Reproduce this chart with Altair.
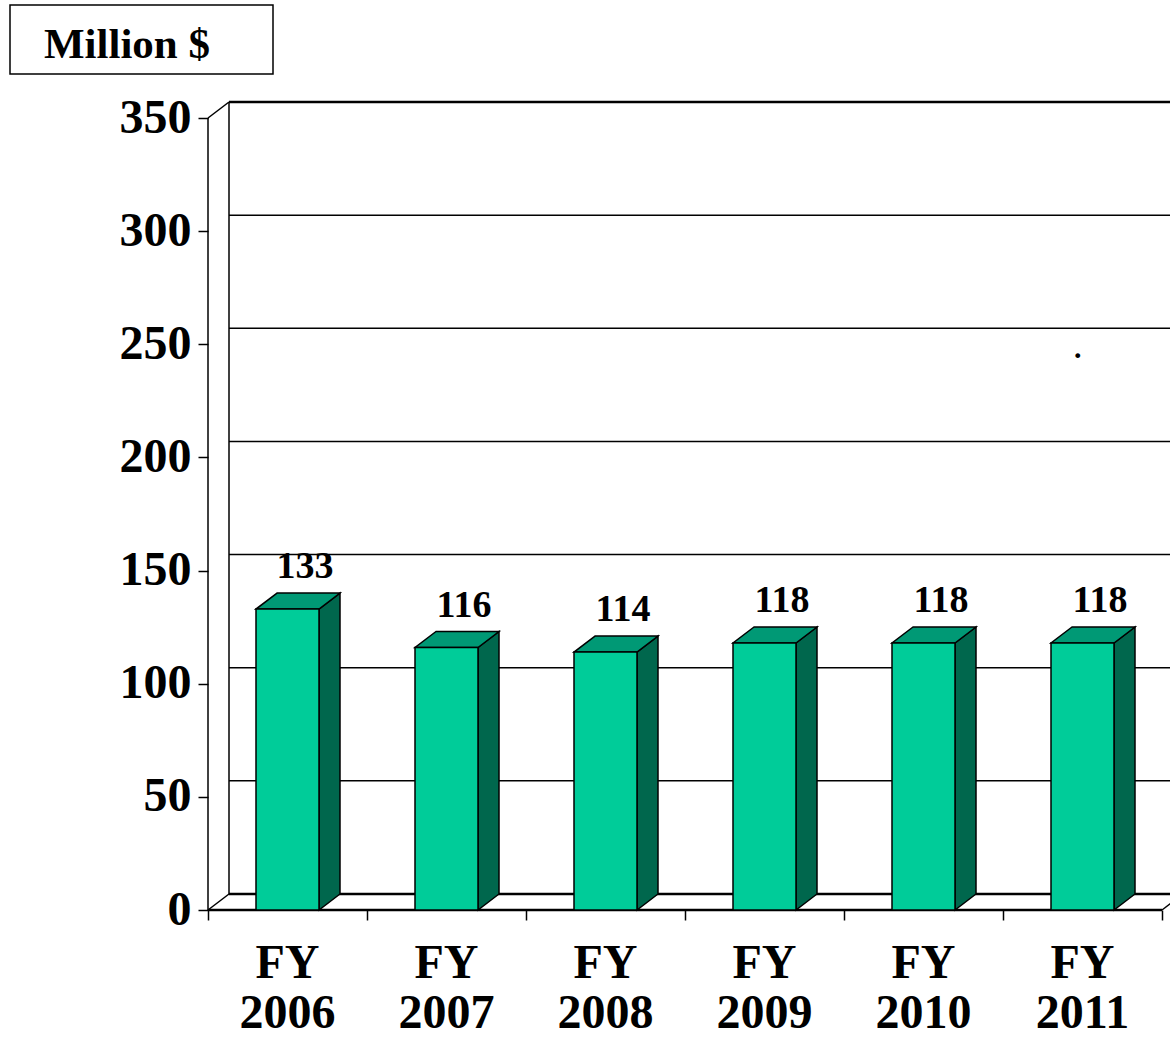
import altair as alt
import pandas as pd

# ---- data ----
years = ["2006", "2007", "2008", "2009", "2010", "2011"]
x_labels = ["FY\n2006", "FY\n2007", "FY\n2008", "FY\n2009", "FY\n2010", "FY\n2011"]
values = [133, 116, 114, 118, 118, 118]
y_ticks = [0, 50, 100, 150, 200, 250, 300, 350]
unit_title = ["Million $"]
stray_text = ["."]
stray_x = [5.47]
stray_y = [244]

# ---- style / geometry constants ----
FONT = "Liberation Serif"
N = len(years)
BAND_PX = 159.0
PLOT_H_PX = 792.0
YMAX = 350.0
DX_PX, DY_PX = 21.0, 16.0
DXU = DX_PX / BAND_PX
DYU = DY_PX * YMAX / PLOT_H_PX
BW = 63.0 / BAND_PX
FRONT = "#00CC99"
TOP = "#009975"
SIDE = "#00674D"

xs = alt.Scale(domain=[0, N + DXU], range=[0, N * BAND_PX + DX_PX], nice=False, zero=False)
ys = alt.Scale(domain=[0, YMAX + DYU], nice=False, zero=False)

# ---- tables built from arrays ----
bars = pd.DataFrame({
    "year": years,
    "label": x_labels,
    "v": values,
    "c": [i + 0.5 for i in range(N)],
})
bars["xl"] = bars["c"] - BW / 2
bars["xr"] = bars["c"] + BW / 2
bars["ytop"] = bars["v"] + DYU
bars["lx"] = bars["c"] + DXU / 2

side_rows, top_rows = [], []
for _, r in bars.iterrows():
    side_rows.append({"year": r.year, "x": r.xr, "y": r.v, "y2": 0.0})
    side_rows.append({"year": r.year, "x": r.xr + DXU, "y": r.v + DYU, "y2": DYU})
    top_rows.append({"year": r.year, "y": r.v, "x": r.xl, "x2": r.xr})
    top_rows.append({"year": r.year, "y": r.v + DYU, "x": r.xl + DXU, "x2": r.xr + DXU})
side = pd.DataFrame(side_rows)
top = pd.DataFrame(top_rows)

XEND = N + DXU
thin_lines = [
    {"x": 0, "y": 0, "x2": 0, "y2": YMAX},
    {"x": DXU, "y": DYU, "x2": DXU, "y2": YMAX + DYU},
    {"x": 0, "y": YMAX, "x2": DXU, "y2": YMAX + DYU},
    {"x": 0, "y": 0, "x2": DXU, "y2": DYU},
    {"x": N, "y": 0, "x2": N + DXU, "y2": DYU},
]
for t in y_ticks[1:-1]:
    thin_lines.append({"x": DXU, "y": t + DYU, "x2": XEND, "y2": t + DYU})
thin = pd.DataFrame(thin_lines)
thick = pd.DataFrame([
    {"x": DXU, "y": YMAX + DYU, "x2": XEND, "y2": YMAX + DYU},
    {"x": DXU, "y": DYU, "x2": XEND, "y2": DYU},
    {"x": 0, "y": 0, "x2": N, "y2": 0},
])

# ---- layers ----
axes = alt.Chart(pd.DataFrame({"tx": [0.0, float(N)], "ty": [0.0, YMAX]})).mark_point(opacity=0).encode(
    x=alt.X("tx:Q", scale=xs, axis=alt.Axis(
        values=list(range(N + 1)), labels=False, domain=False, grid=False, title=None,
        ticks=True, tickSize=10, tickColor="black", tickWidth=1.5)),
    y=alt.Y("ty:Q", scale=ys, axis=alt.Axis(
        values=y_ticks, domain=False, grid=False, title=None, ticks=True, tickSize=10,
        tickColor="black", tickWidth=1.5, labelFont=FONT, labelFontSize=48,
        labelFontWeight="bold", labelColor="black", labelPadding=7)),
)

thin_layer = alt.Chart(thin).mark_rule(color="black", strokeWidth=1.5).encode(
    x=alt.X("x:Q", scale=xs), x2="x2:Q", y=alt.Y("y:Q", scale=ys), y2="y2:Q")
thick_layer = alt.Chart(thick).mark_rule(color="black", strokeWidth=2.5).encode(
    x=alt.X("x:Q", scale=xs), x2="x2:Q", y=alt.Y("y:Q", scale=ys), y2="y2:Q")

side_layer = alt.Chart(side).mark_area(
    orient="vertical", color=SIDE, stroke="black", strokeWidth=1.5, opacity=1, interpolate="linear"
).encode(x=alt.X("x:Q", scale=xs), y=alt.Y("y:Q", scale=ys), y2="y2:Q", detail="year:N")

top_layer = alt.Chart(top).mark_area(
    orient="horizontal", color=TOP, stroke="black", strokeWidth=1.5, opacity=1, interpolate="linear"
).encode(y=alt.Y("y:Q", scale=ys), x=alt.X("x:Q", scale=xs), x2="x2:Q", detail="year:N")

front_layer = alt.Chart(bars).mark_rect(color=FRONT, stroke="black", strokeWidth=1.5).encode(
    x=alt.X("xl:Q", scale=xs), x2="xr:Q", y=alt.Y("v:Q", scale=ys), y2=alt.datum(0))

value_labels = alt.Chart(bars).mark_text(
    font=FONT, fontSize=38, fontWeight="bold", color="black", align="center",
    baseline="alphabetic", dx=7, dy=-15
).encode(x=alt.X("lx:Q", scale=xs), y=alt.Y("ytop:Q", scale=ys), text="v:Q")

cat_labels = alt.Chart(bars).mark_text(
    font=FONT, fontSize=48, fontWeight="bold", color="black", align="center",
    baseline="alphabetic", lineBreak="\n", lineHeight=50
).encode(x=alt.X("c:Q", scale=xs), y=alt.value(876), text="label:N")

stray = alt.Chart(pd.DataFrame({"x": stray_x, "y": stray_y, "t": stray_text})).mark_text(
    font=FONT, fontSize=30, fontWeight="bold", color="black", align="center", baseline="alphabetic"
).encode(x=alt.X("x:Q", scale=xs), y=alt.Y("y:Q", scale=ys), text="t:N")

title_df = pd.DataFrame({"t": unit_title})
title_box = alt.Chart(title_df).mark_rect(fill="white", stroke="black", strokeWidth=1.5).encode(
    x=alt.value(-198), x2=alt.value(65), y=alt.value(-97), y2=alt.value(-28))
title_text = alt.Chart(title_df).mark_text(
    font=FONT, fontSize=43, fontWeight="bold", color="black", align="center", baseline="alphabetic"
).encode(x=alt.value(-81), y=alt.value(-44), text="t:N")

chart = alt.layer(
    axes, thin_layer, thick_layer, side_layer, top_layer, front_layer,
    value_labels, cat_labels, stray, title_box, title_text
).properties(
    width=962, height=PLOT_H_PX + DY_PX,
    autosize=alt.AutoSizeParams(type="none"),
    padding={"left": 208, "top": 102, "right": 0, "bottom": 128},
    background="white",
).configure_view(stroke=None)

chart.save("out.html", embed_options={"renderer": "svg", "actions": False})
